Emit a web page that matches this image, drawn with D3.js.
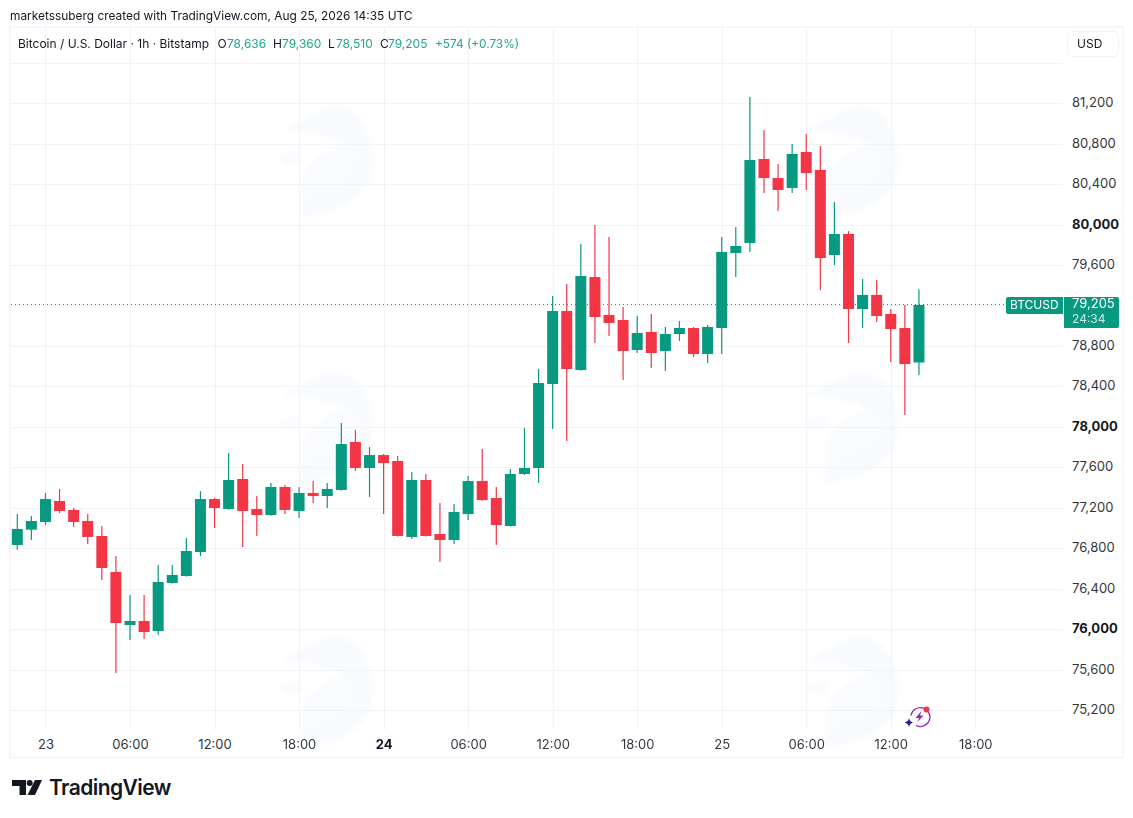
<!DOCTYPE html>
<html>
<head>
<meta charset="utf-8">
<script src="https://cdnjs.cloudflare.com/ajax/libs/d3/7.8.5/d3.min.js"></script>
<style>
html,body{margin:0;padding:0;background:#fff;}
svg{display:block;font-family:Inter,"Open Sans",sans-serif;}
.axis path,.axis line{display:none;}
</style>
</head>
<body>
<div id="chart"></div>
<script>
const open_  = [76832,76983,77059,77267,77178,77069,76921,76565,76040,76080,75981,76456,76525,76762,77286,77187,77484,77187,77128,77405,77168,77346,77316,77375,77850,77593,77721,77662,76911,77474,76940,76881,77138,77464,77296,77019,77534,77593,78423,79145,78562,79481,79106,79056,78760,78938,78750,78918,78977,78720,78977,79719,79818,80648,80460,80362,80718,80540,79699,79907,79165,79304,79116,78977,78636];
const high_  = [77138,77118,77346,77385,77197,77138,77019,76723,76337,76337,76634,76634,76901,77365,77296,77741,77632,77316,77445,77425,77405,77464,77445,78038,77969,77801,77731,77712,77553,77534,77247,77237,77514,77781,77405,77583,77988,78572,79294,79412,79808,79996,79877,79185,79096,79116,78987,79046,78987,79007,79877,79976,81261,80935,80599,80797,80895,80777,80223,79936,79462,79452,79165,79205,79360];
const low_   = [76785,76881,77029,77148,77010,76841,76485,75566,75892,75902,75942,76450,76520,76723,77000,77180,76812,76921,77120,77138,77098,77247,77197,77370,77563,77306,77138,76915,76891,76915,76663,76841,77079,77270,76832,77015,77524,77445,77979,77860,78555,78829,78898,78463,78730,78582,78552,78849,78690,78631,78720,79481,79729,80312,80134,80312,80342,79353,79600,78829,78977,79037,78641,78117,78510];
const close_ = [76990,77069,77286,77168,77059,76911,76604,76060,76080,75971,76466,76535,76772,77286,77197,77474,77168,77128,77405,77178,77346,77316,77385,77830,77593,77721,77642,76921,77474,76921,76881,77158,77464,77276,77029,77534,77593,78433,79145,78572,79491,79086,79027,78750,78928,78730,78918,78977,78720,78987,79729,79788,80638,80460,80342,80698,80510,79669,79907,79165,79304,79096,78967,78621,79205];

const priceTicks = [75200,75600,76000,76400,76800,77200,77600,78000,78400,78800,79200,79600,80000,80400,80800,81200];
const hiddenGridPrices = [81600];
const boldPrices = [76000,78000,80000];
const timeTickIndex = [2,8,14,20,26,32,38,44,50,56,62,68];
const timeTickLabels = ["23","06:00","12:00","18:00","24","06:00","12:00","18:00","25","06:00","12:00","18:00"];
const boldTimes = ["24"];

const titleText = "marketssuberg created with TradingView.com, Aug 25, 2026 14:35 UTC";
const legendName = "Bitcoin / U.S. Dollar · 1h · Bitstamp";
const legendOHLC = [["O","78,636",217.5,227],["H","79,360",273,282],["L","78,510",328,336],["C","79,205",380,388]];
const legendChange = "+574 (+0.73%)";
const lastPrice = 79205;
const countdown = "24:34";

const W=1133,H=818, UP="#089981", DOWN="#f23645", GRID="#f2f3f6", TXT="#131722";
const x = d3.scaleLinear().domain([0,68]).range([17.3,975.3]);
const y = d3.scaleLinear().domain([75200,81200]).range([710,103.2]);

const svg = d3.select("#chart").append("svg").attr("width",W).attr("height",H);
const defs = svg.append("defs");
defs.append("filter").attr("id","soft").attr("x","-10%").attr("y","-10%").attr("width","120%").attr("height","120%")
  .append("feGaussianBlur").attr("stdDeviation",2);

// frame
svg.append("rect").attr("x",10).attr("y",27).attr("width",1113).attr("height",730.5)
  .attr("fill","#fff").attr("stroke","#f3f4f6").attr("stroke-width",1.5);

// watermark
const markCentres=[[328,160],[328,425],[328,690],[853,160],[853,425],[853,690]];
const wm = svg.append("g").attr("filter","url(#soft)");
markCentres.forEach(c=>{
  const g = wm.append("g").attr("transform",`translate(${c[0]},${c[1]})`);
  g.append("path").attr("fill","#f8fafe").attr("d","M-48,-29 C-25,-40 -8,-53 10,-53 C35,-50 46,-22 45,5 C44,32 20,52 -28,58 L-28,38 C-30,20 -20,5 -10,-2 C5,-14 15,-14 22,-12 C5,-24 -25,-30 -48,-29 Z");
  g.append("path").attr("fill","#fafbfe").attr("d","M-28,20 C-12,-2 10,-10 30,-8 C28,15 15,30 -28,40 Z");
  g.append("path").attr("fill","#f9fbfe").attr("d","M-52,-4 L-27,-11 L-26,3 L-42,4 Z");
});

// grid
const gridG = svg.append("g").attr("stroke",GRID).attr("stroke-width",1).attr("shape-rendering","crispEdges");
priceTicks.concat(hiddenGridPrices).forEach(p=>{
  gridG.append("line").attr("x1",11).attr("x2",1063).attr("y1",Math.round(y(p))+.5).attr("y2",Math.round(y(p))+.5);
});
timeTickIndex.forEach(i=>{
  gridG.append("line").attr("x1",Math.round(x(i))+.5).attr("x2",Math.round(x(i))+.5).attr("y1",28).attr("y2",730);
});

// candles
const idx = d3.range(open_.length);
const candle = svg.append("g").selectAll("g").data(idx).join("g")
  .attr("fill",i=>close_[i]>=open_[i]?UP:DOWN)
  .attr("stroke",i=>close_[i]>=open_[i]?UP:DOWN);
candle.append("line").attr("x1",i=>x(i)).attr("x2",i=>x(i))
  .attr("y1",i=>y(high_[i])).attr("y2",i=>y(low_[i])).attr("stroke-width",1.2);
candle.append("rect").attr("stroke","none")
  .attr("x",i=>x(i)-5.5).attr("width",11)
  .attr("y",i=>y(Math.max(open_[i],close_[i])))
  .attr("height",i=>Math.max(1,Math.abs(y(open_[i])-y(close_[i]))));

// last price line
svg.append("line").attr("x1",11).attr("x2",1006).attr("y1",Math.floor(y(lastPrice))+.5).attr("y2",Math.floor(y(lastPrice))+.5)
  .attr("stroke",UP).attr("stroke-width",1).attr("stroke-dasharray","1 3").attr("shape-rendering","crispEdges");

// price axis
const yAxis = d3.axisRight(y).tickValues(priceTicks).tickSize(0).tickPadding(0).tickFormat(d3.format(","));
const ya = svg.append("g").attr("class","axis").attr("transform","translate(1072,0)").call(yAxis);
ya.selectAll("text").attr("fill",TXT).attr("font-size",13).attr("font-family","Inter")
  .attr("font-weight",d=>boldPrices.includes(d)?700:400).attr("dy","0.27em").attr("opacity",d=>boldPrices.includes(d)?1:.88);

// time axis
const xAxis = d3.axisBottom(x).tickValues(timeTickIndex).tickSize(0).tickPadding(0)
  .tickFormat((d,i)=>timeTickLabels[i]);
const xa = svg.append("g").attr("class","axis").attr("transform","translate(0,739.5)").call(xAxis);
xa.selectAll("text").attr("fill",TXT).attr("font-size",13).attr("font-family","Inter").attr("dy","0.71em")
  .attr("font-weight",(d,i)=>boldTimes.includes(timeTickLabels[i])?700:400).attr("opacity",(d,i)=>boldTimes.includes(timeTickLabels[i])?1:.88);

// header
svg.append("text").attr("x",10).attr("y",19.5).attr("font-size",11.9).attr("fill",TXT).text(titleText);
svg.append("text").attr("x",18).attr("y",47.5).attr("font-size",12).attr("fill",TXT).text(legendName);
const LEG="#22a68f";
legendOHLC.forEach(r=>{
  svg.append("text").attr("x",r[2]).attr("y",47.5).attr("font-size",12).attr("fill",TXT).text(r[0]);
  svg.append("text").attr("x",r[3]).attr("y",47.5).attr("font-size",12).attr("fill",LEG).text(r[1]);
});
svg.append("text").attr("x",435).attr("y",47.5).attr("font-size",11.8).attr("fill",LEG).text(legendChange);

// USD button
svg.append("rect").attr("x",1067.5).attr("y",31.5).attr("width",51).attr("height",25).attr("rx",4)
  .attr("fill","#fff").attr("stroke","#f0f3fa");
svg.append("text").attr("x",1077).attr("y",48).attr("font-size",12).attr("fill",TXT).text("USD");

// last price tags
const ly=y(lastPrice);
svg.append("path").attr("fill",UP).attr("d",`M1008,${ly-8} H1063 V${ly+9} H1008 Q1006,${ly+9} 1006,${ly+7} V${ly-6} Q1006,${ly-8} 1008,${ly-8} Z`);
svg.append("text").attr("x",1010).attr("y",ly+4.5).attr("font-size",12).attr("fill","#fff").text("BTCUSD");
svg.append("path").attr("fill",UP).attr("d",`M1064,${ly-8} H1117 Q1119,${ly-8} 1119,${ly-6} V${ly+21} Q1119,${ly+23} 1117,${ly+23} H1064 Z`);
svg.append("text").attr("x",1072).attr("y",ly+3.5).attr("font-size",13).attr("fill","#fff").text(d3.format(",")(lastPrice));
svg.append("text").attr("x",1072).attr("y",ly+18).attr("font-size",12).attr("fill","#fff").attr("opacity",.8).text(countdown);

// spark icon
const ic = svg.append("g").attr("transform","translate(919,717)");
ic.append("path").attr("d","M-8,-1.5 A9.5,9.5 0 1 1 -3,8.5").attr("fill","none").attr("stroke","#9c27b0").attr("stroke-width",1.3);
ic.append("path").attr("d","M2.5,-6 L-3.5,1 L0,1 L-1.5,5 L4.5,-1.5 L1,-1.5 Z").attr("fill","#9c27b0");
ic.append("path").attr("d","M-10,1 Q-9.5,4.5 -6,5.5 Q-9.5,6.5 -10,10 Q-10.5,6.5 -14.5,5.5 Q-10.5,4.5 -10,1 Z").attr("fill","#311b92");
ic.append("circle").attr("cx",7.5).attr("cy",-7.5).attr("r",3).attr("fill","#f23645");

// logo
const lg = svg.append("g").attr("fill","#131722");
lg.append("path").attr("d","M12,780 H26 V795 H19.5 V786 H12 Z");
lg.append("circle").attr("cx",29.7).attr("cy",783).attr("r",3);
lg.append("path").attr("d","M35,780 H42 L35,795 H27.5 Z");
svg.append("text").attr("x",49).attr("y",795).attr("font-size",21).attr("font-weight",600).attr("letter-spacing",-0.55).attr("fill","#131722").text("TradingView");
</script>
</body>
</html>
